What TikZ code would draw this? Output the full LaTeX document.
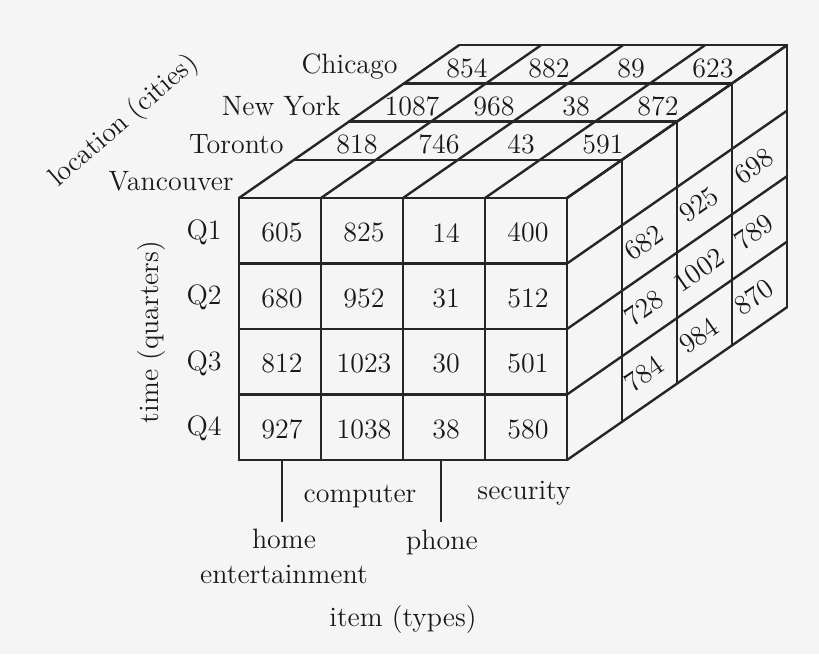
\documentclass[tikz,border=0pt]{standalone}
\begin{document}
\begin{tikzpicture}[x=0.5pt,y=-0.5pt,
  cubeline/.style={line width=1.2pt, draw=black!85, line cap=round, line join=round},
  txt/.style={font=\fontsize{14}{17.5}\selectfont, text=black!90, inner sep=0pt},
  val/.style={txt},
  rval/.style={txt, rotate=34.8},
  tick/.style={line width=1.2pt, draw=black!85}]
\useasboundingbox (0,0) rectangle (819,654);
\fill[black!4] (0,0) rectangle (819,654);
% front face grid
\foreach \i in {0,...,4} \draw[cubeline] ({239+82*\i},198) -- ({239+82*\i},460);
\foreach \j in {0,...,4} \draw[cubeline] (239,{198+65.5*\j}) -- (567,{198+65.5*\j});
% top face grid
\foreach \k in {1,...,4} \draw[cubeline] ({239+55*\k},{198-38.2*\k}) -- ({567+55*\k},{198-38.2*\k});
\foreach \i in {0,...,4} \draw[cubeline] ({239+82*\i},198) -- ({239+82*\i+220},{198-152.8});
% right face grid
\foreach \k in {1,...,4} \draw[cubeline] ({567+55*\k},{198-38.2*\k}) -- ({567+55*\k},{460-38.2*\k});
\foreach \j in {0,...,4} \draw[cubeline] (567,{198+65.5*\j}) -- (787,{198+65.5*\j-152.8});
% front values
\foreach \row [count=\j from 0] in {{605,825,14,400},{680,952,31,512},{812,1023,30,501},{927,1038,38,580}}{
  \foreach \v [count=\i from 0] in \row
    \node[val] (f\i\j) at ({239+82*(\i+0.5)+2},{198+65.5*(\j+0.5)+2}) {\v};
}
% top values
\foreach \row [count=\k from 1] in {{818,746,43,591},{1087,968,38,872},{854,882,89,623}}{
  \foreach \v [count=\i from 0] in \row
    \node[val] (t\i\k) at ({239+82*(\i+0.5)+55*(\k+0.4)},{198-38.2*(\k+0.4)}) {\v};
}
% right values
\foreach \row [count=\k from 1] in {{682,728,784},{925,1002,984},{698,789,870}}{
  \foreach \v [count=\j from 1] in \row
    \node[rval] (r\k\j) at ({567+55*(\k+0.4)},{198+65.5*(\j+0.5)-38.2*(\k+0.4)}) {\v};
}
% city labels
\node[txt, anchor=east] (vancouver) at (234,181) {Vancouver};
\node[txt, anchor=east] (toronto) at (284,144) {Toronto};
\node[txt, anchor=east] (newyork) at (341,106) {New York};
\node[txt, anchor=east] (chicago) at (398,67) {Chicago};
% quarter labels
\node[txt, anchor=east] (q1) at (222,232) {Q1};
\node[txt, anchor=east] (q2) at (222,297) {Q2};
\node[txt, anchor=east] (q3) at (222,363) {Q3};
\node[txt, anchor=east] (q4) at (222,428) {Q4};
% axis titles
\node[txt, rotate=41] (loc) at (124,121) {location (cities)};
\node[txt, rotate=90] (time) at (152,332) {time (quarters)};
\node[txt] (item) at (403,620) {item (types)};
% item labels
\coordinate (tkA) at (282,460);
\coordinate (tkAe) at (282,522);
\coordinate (tkB) at (441,460);
\coordinate (tkBe) at (441,522);
\draw[tick] (tkA) -- (tkAe);
\draw[tick] (tkB) -- (tkBe);
\node[txt] (computer) at (360,497) {computer};
\node[txt] (security) at (524,493) {security};
\node[txt] (phone) at (442,542) {phone};
\node[txt, align=center] (home) at (284,556) {home\\entertainment};
\end{tikzpicture}
\end{document}
